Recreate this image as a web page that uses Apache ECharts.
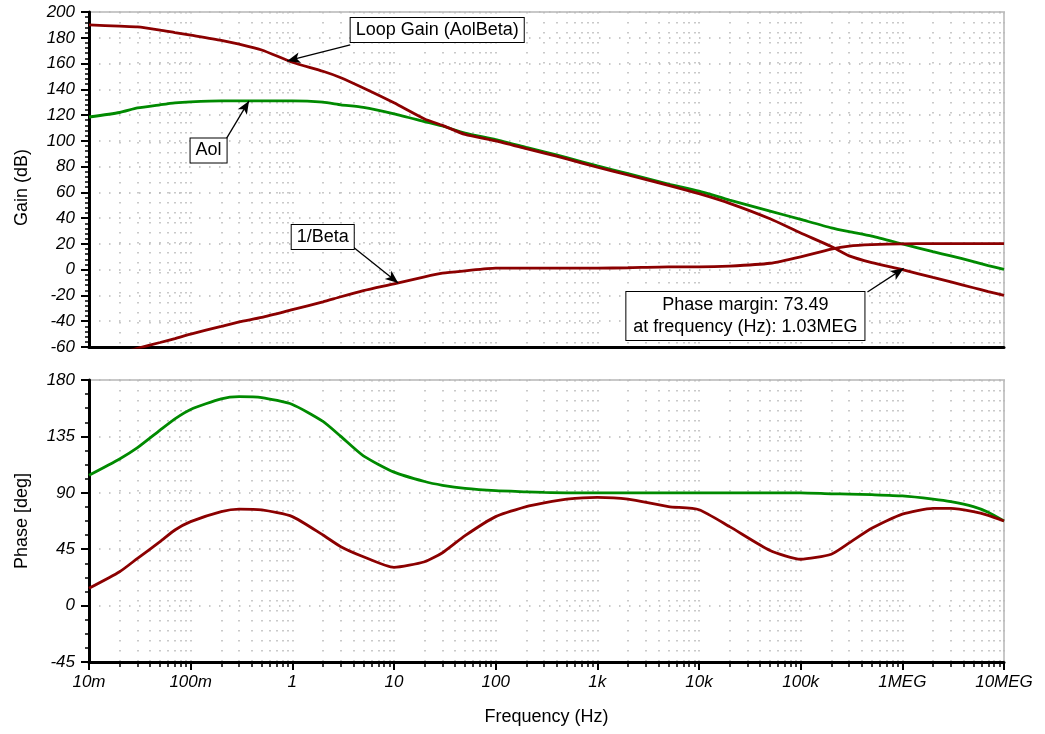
<!DOCTYPE html>
<html><head><meta charset="utf-8">
<script src="https://cdn.jsdelivr.net/npm/echarts@6/dist/echarts.min.js"></script>
<style>html,body{margin:0;padding:0;background:#fff}#c{width:1045px;height:734px}</style>
</head><body><div id="c"></div><script>
// ---- data ----
const freqHz = [0.01,0.02,0.03,0.05,0.07,0.1,0.2,0.3,0.5,1,2,3,5,10,20,30,50,100,200,300,500,1e3,2e3,5e3,1e4,2e4,5e4,1e5,2e5,3e5,5e5,1e6,2e6,3e6,5e6,7e6,1e7];
const aolGainDb = [118.5,122,125.5,128,129.5,130.3,131,131,131,131,130,128,126,121,115,111.5,106,101,95,91.5,87,80.5,74.5,66.5,61,54,45.5,39,32.5,29.5,26,20,14,10.7,6.3,3.2,0.3];
const loopGainDb = [190,189,188.5,186,184,182,178,175,170.5,161,154,149,141,129.5,117,112,105,100,94,90.5,86,79.5,73.5,65.5,59,51.5,39.5,28.5,18,10.7,5.5,0,-6,-9.5,-14,-17,-20];
const invBetaDb = [-71,-65,-61,-56.5,-53.5,-50,-44,-40.5,-37,-31,-25,-21,-16.3,-11,-5.5,-2.7,-0.9,1.2,1.2,1.2,1.2,1.2,1.5,2.2,2.2,2.8,5,10,16,18.3,19.4,20.1,20.2,20.2,20.2,20.2,20.2];
const aolPhaseDeg = [104,117,126,140,149,156.5,165,166.7,166,160.5,147,135,119.5,106.5,99,96,93.5,91.7,90.8,90.3,90,90,90,90,90,90,90,90,89.2,89,88.5,87.5,85,83,79,74.5,67.5];
const loopPhaseDeg = [13.8,27,37.7,51,60.3,67,75,77,76.3,71,56.3,47,39,30.5,35,42.2,55.8,71,79,82,85,86.4,85,79,76.5,63,44,37,41,50,61.7,73,77.6,77.6,75,72,67.5];
const decadeTicks = [0.01,0.1,1,10,100,1e3,1e4,1e5,1e6,1e7];
const decadeLabels = ['10m','100m','1','10','100','1k','10k','100k','1MEG','10MEG'];
const gainTicks = [-60,-40,-20,0,20,40,60,80,100,120,140,160,180,200];
const phaseTicks = [-45,0,45,90,135,180];
const noteTexts = ['Loop Gain (AolBeta)','Aol','1/Beta','Phase margin: 73.49\nat frequency (Hz): 1.03MEG'];

const minorTicks = [];
decadeTicks.slice(0,-1).forEach(d => { for (let k = 1; k <= 9; k++) minorTicks.push(Number((k*d).toPrecision(6))); });
minorTicks.push(decadeTicks[decadeTicks.length-1]);

const zip = (xs, ys) => xs.map((x,i) => [x, ys[i]]);

const FONT = '"Liberation Sans", Arial, Helvetica, sans-serif';
const DOT = '#b8b8b8';
const RED = '#8b0000';
const GREEN = '#008a00';

function xAxesFor(g, bottom) {
  return [
    { type:'log', logBase:10, gridIndex:g, position:'bottom', min:0.01, max:1e7,
      axisLine:{show:true, onZero:false, lineStyle:{color:'#000', width:3}},
      axisTick:{show:bottom, customValues:minorTicks, length:5, lineStyle:{color:'#000', width:1.5}},
      axisLabel:{show:false},
      splitLine:{show:true, lineStyle:{color:DOT, width:1.5, type:[1.5,8.5]}}
    },
    { type:'log', logBase:10, gridIndex:g, position:'bottom', min:0.01, max:1e7,
      axisLine:{show:false, onZero:false},
      axisTick:{show:bottom, customValues:decadeTicks, length:8, lineStyle:{color:'#000', width:2}},
      axisLabel:{show:bottom, customValues:decadeTicks, margin:12, color:'#000', fontSize:17, fontStyle:'italic', fontFamily:FONT,
        formatter: v => decadeLabels[Math.round(Math.log10(v)) + 2]},
      splitLine:{show:false},
      name: bottom ? 'Frequency (Hz)' : '', nameLocation:'middle', nameGap:46,
      nameTextStyle:{color:'#000', fontSize:18, fontFamily:FONT}
    }
  ];
}

function yAxisFor(g, ticks, minorSplit, name, pad) {
  return { type:'value', gridIndex:g, position:'left', min:ticks[0], max:ticks[ticks.length-1], interval:ticks[1]-ticks[0],
    axisLine:{show:true, onZero:false, lineStyle:{color:'#000', width:3}},
    axisTick:{show:true, length:8, lineStyle:{color:'#000', width:2}},
    minorTick:{show:true, splitNumber:minorSplit, length:4, lineStyle:{color:'#000', width:1.5}},
    axisLabel:{margin:14, color:'#000', fontSize:17, fontStyle:'italic', fontFamily:FONT},
    splitLine:{show:true, lineStyle:{color:DOT, width:1.5, type:[1.5,8.5]}},
    name:name, nameLocation:'middle', nameRotate:90, nameGap:58,
    nameTextStyle:{color:'#000', fontSize:18, fontFamily:FONT, padding:pad}
  };
}

const boxLabel = (txt, lh, px) => ({ show:true, position:'inside', formatter: txt, color:'#000', fontSize:18, fontFamily:FONT,
  backgroundColor:'#fff', borderColor:'#000', borderWidth:1, padding:[2,px], lineHeight:lh, align:'center' });
const note = (coord, txt, lh, px) => ({ coord, symbol:'rect', symbolSize:1, itemStyle:{color:'rgba(0,0,0,0)'}, label: boxLabel(txt, lh || 20, px || 5) });
const arrow = (from, to) => [{coord:from}, {coord:to}];
const arrowStyle = { symbol:['none','arrow'], symbolSize:[8,13], silent:true, label:{show:false},
  lineStyle:{color:'#000', width:1.3, type:'solid'}, emphasis:{disabled:true}, animation:false };

const option = {
  animation:false,
  backgroundColor:'#fff',
  grid:[
    {left:89, right:41, top:12, height:335, show:true, borderColor:'#c8c8c8', borderWidth:2, backgroundColor:'transparent'},
    {left:89, right:41, top:380, height:282, show:true, borderColor:'#c8c8c8', borderWidth:2, backgroundColor:'transparent'}
  ],
  xAxis:[...xAxesFor(0,false), ...xAxesFor(1,true)],
  yAxis:[yAxisFor(0, gainTicks, 5, 'Gain (dB)', [0,16,0,0]), yAxisFor(1, phaseTicks, 4, 'Phase [deg]', [0,0,0,0])],
  series:[
    { name:'Aol', type:'line', xAxisIndex:0, yAxisIndex:0, data:zip(freqHz, aolGainDb), showSymbol:false, symbol:'none',
      smooth:0.2, lineStyle:{color:GREEN, width:2.8}, z:3,
      markLine:Object.assign({data:[arrow([0.223,101.4],[freqHz[7]*1.25, aolGainDb[7]])]}, arrowStyle),
      markPoint:{data:[note([0.15,92.5], noteTexts[1])], animation:false} },
    { name:'Loop Gain', type:'line', xAxisIndex:0, yAxisIndex:0, data:zip(freqHz, loopGainDb), showSymbol:false, symbol:'none',
      smooth:0.2, lineStyle:{color:RED, width:2.8}, z:4,
      markLine:Object.assign({data:[arrow([3.71,174.4],[0.89,162]), arrow([4.54e5,-17.3],[1.03e6, 1])]}, arrowStyle),
      markPoint:{data:[note([26.6,186], noteTexts[0]), note([2.86e4,-36], noteTexts[3], 22, 7)], animation:false} },
    { name:'1/Beta', type:'line', xAxisIndex:0, yAxisIndex:0, data:zip(freqHz, invBetaDb), showSymbol:false, symbol:'none',
      smooth:0.2, lineStyle:{color:RED, width:2.8}, z:4,
      markLine:Object.assign({data:[arrow([3.96,17.6],[11,-10.3])]}, arrowStyle),
      markPoint:{data:[note([1.99,25.4], noteTexts[2])], animation:false} },
    { name:'Aol phase', type:'line', xAxisIndex:2, yAxisIndex:1, data:zip(freqHz, aolPhaseDeg), showSymbol:false, symbol:'none',
      smooth:0.2, lineStyle:{color:GREEN, width:2.8}, z:3 },
    { name:'Loop phase', type:'line', xAxisIndex:2, yAxisIndex:1, data:zip(freqHz, loopPhaseDeg), showSymbol:false, symbol:'none',
      smooth:0.2, lineStyle:{color:RED, width:2.8}, z:4 }
  ]
};
const chart = echarts.init(document.getElementById('c'), null, {renderer:'canvas'});
chart.setOption(option);
</script></body></html>
